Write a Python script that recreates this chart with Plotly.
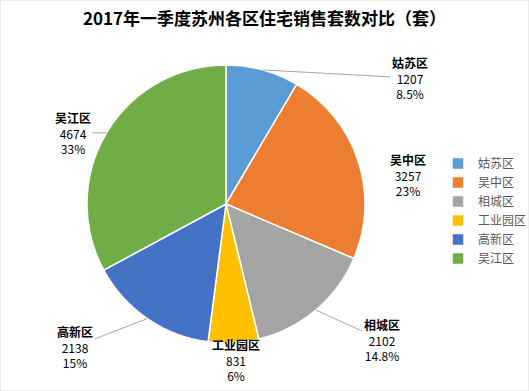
import numpy as np
import plotly.graph_objects as go

# ---- data ----
districts = ["姑苏区", "吴中区", "相城区", "工业园区", "高新区", "吴江区"]
sales = [1207, 3257, 2102, 831, 2138, 4674]
pct_labels = ["8.5%", "23%", "14.8%", "6%", "15%", "33%"]
title_text = "2017年一季度苏州各区住宅销售套数对比（套）"

# ---- style ----
colors = ["#5B9BD5", "#ED7D31", "#A5A5A5", "#FFC000", "#4472C4", "#70AD47"]
W, H = 529, 391
CX, CY, R = 226, 204, 139          # pie centre / radius in pixels
# text offsets (pixels) of each data label from its slice's outer mid point
label_offsets = [(147, 8), (50, 14), (66, 30), (2, 17), (-72, 28), (-34, 0)]
show_leader = [True, False, True, False, True, True]
FONT = "Noto Sans CJK SC"

fig = go.Figure(go.Pie(
    labels=districts,
    values=sales,
    sort=False,
    direction="clockwise",
    rotation=0,
    marker=dict(colors=colors, line=dict(color="white", width=1.5)),
    textinfo="none",
    hoverinfo="label+value+percent",
    domain=dict(x=[(CX - R) / W, (CX + R) / W],
                y=[(H - CY - R) / H, (H - CY + R) / H]),
))

# data labels computed from the slice angles
vals = np.array(sales, dtype=float)
frac = vals / vals.sum()
mids = (np.cumsum(frac) - frac / 2) * 2 * np.pi
annotations = []
for name, v, p, a, (dx, dy), lead in zip(districts, sales, pct_labels, mids,
                                         label_offsets, show_leader):
    px = CX + R * np.sin(a)
    py = CY - R * np.cos(a)
    text = f"<b>{name}</b><br>{v}<br>{p}"
    annotations.append(dict(
        x=px / W, y=1 - py / H, xref="paper", yref="paper",
        text=text, showarrow=True, ax=dx, ay=dy,
        arrowhead=0, arrowwidth=1,
        arrowcolor="#A6A6A6" if lead else "rgba(0,0,0,0)",
        font=dict(family=FONT, size=12, color="#000000"),
        align="center",
    ))

fig.update_layout(
    width=W, height=H,
    margin=dict(l=0, r=0, t=0, b=0, autoexpand=False),
    paper_bgcolor="white",
    plot_bgcolor="white",
    title=dict(text=f"<b>{title_text}</b>", x=0.5, xanchor="center",
               y=1 - 19 / H, yanchor="middle",
               font=dict(family=FONT, size=17, color="#000000")),
    showlegend=True,
    legend=dict(x=438 / W, y=1 - 211 / H, xanchor="left", yanchor="middle",
                font=dict(family=FONT, size=12, color="#595959"),
                itemwidth=30, tracegroupgap=0,
                bgcolor="rgba(0,0,0,0)"),
    annotations=annotations,
    shapes=[dict(type="rect", xref="paper", yref="paper", x0=0, y0=0, x1=1, y1=1,
                 line=dict(color="#D9D9D9", width=1))],
)

fig.write_html("out.html",
               config={"displayModeBar": False},
               post_script="document.body.style.margin='0';"
                           "document.body.style.overflow='hidden';")
